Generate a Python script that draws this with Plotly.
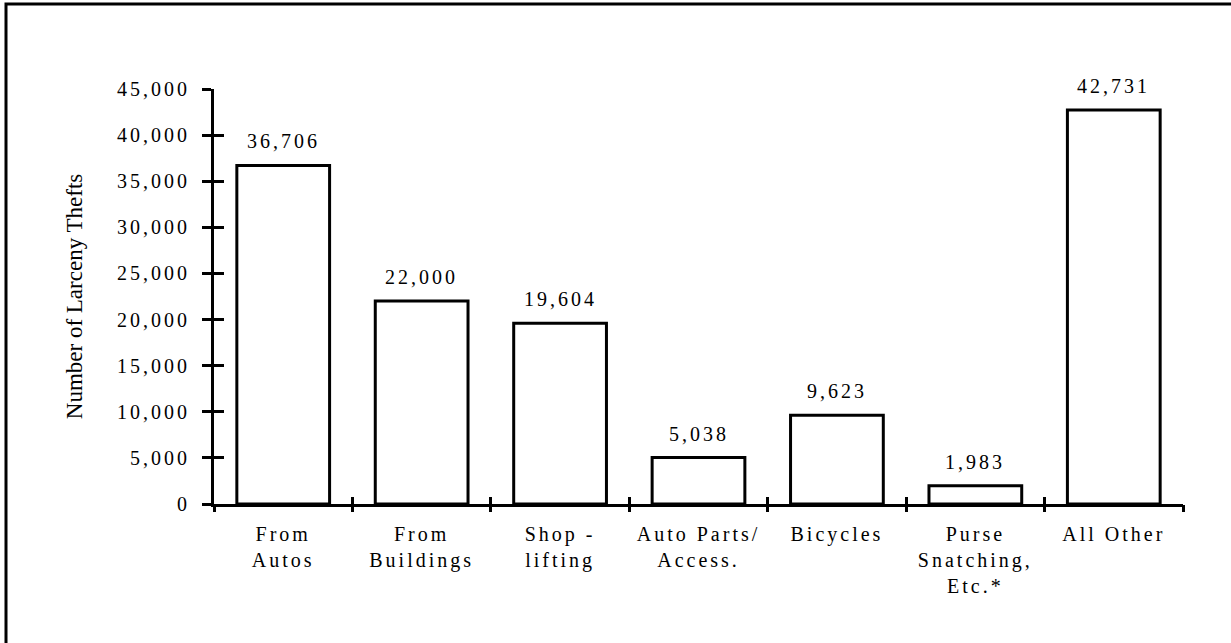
import plotly.graph_objects as go

categories = ["From<br>Autos", "From<br>Buildings", "Shop -<br>lifting", "Auto Parts/<br>Access.",
              "Bicycles", "Purse<br>Snatching,<br>Etc.*", "All Other"]
values = [36706, 22000, 19604, 5038, 9623, 1983, 42731]
y_ticks = [0, 5000, 10000, 15000, 20000, 25000, 30000, 35000, 40000, 45000]
y_title = "Number of Larceny Thefts"

FONT = "Liberation Serif, Times New Roman, serif"
LS = "letter-spacing:3px"
FS = 20


def spaced(t):
    return "<br>".join(f'<span style="{LS}">{p}</span>' for p in t.split("<br>"))


xs = list(range(len(categories)))

fig = go.Figure()
fig.add_trace(go.Bar(
    x=xs, y=values, width=0.67,
    marker=dict(color="white", line=dict(color="black", width=3)),
    hoverinfo="skip", showlegend=False,
))

for xi, v in zip(xs, values):
    fig.add_annotation(x=xi, y=v, text=spaced(f"{v:,}"), showarrow=False,
                       yanchor="bottom", yshift=11,
                       font=dict(family=FONT, size=FS, color="black"))

fig.update_layout(
    width=1231, height=643,
    margin=dict(l=214, r=48, t=89, b=139),
    paper_bgcolor="white", plot_bgcolor="white",
    font=dict(family=FONT, size=FS, color="black"),
    xaxis=dict(
        range=[-0.5, len(categories) - 0.5],
        tickmode="array", tickvals=xs, ticktext=[spaced(c) for c in categories],
        ticks="", showline=True, linecolor="black", linewidth=3,
        showgrid=False, zeroline=False, ticklabelstandoff=10,
        tickfont=dict(family=FONT, size=FS, color="black"),
    ),
    xaxis2=dict(
        overlaying="x", anchor="y", range=[-0.5, len(categories) - 0.5],
        tickmode="array", tickvals=[i - 0.5 for i in range(len(categories) + 1)],
        ticks="inside", ticklen=7, tickwidth=3, tickcolor="black",
        showticklabels=False, showgrid=False, zeroline=False, showline=False,
    ),
    xaxis3=dict(
        overlaying="x", anchor="y", range=[-0.5, len(categories) - 0.5],
        tickmode="array", tickvals=[i - 0.5 for i in range(len(categories) + 1)],
        ticks="outside", ticklen=7, tickwidth=3, tickcolor="black",
        showticklabels=False, showgrid=False, zeroline=False, showline=False,
    ),
    yaxis=dict(
        range=[0, 45000], tickmode="array", tickvals=y_ticks,
        ticktext=[spaced(f"{t:,}") for t in y_ticks],
        ticks="outside", ticklen=9, tickwidth=3, tickcolor="black",
        showline=True, linecolor="black", linewidth=3,
        showgrid=False, zeroline=False, ticklabelstandoff=8,
        tickfont=dict(family=FONT, size=FS, color="black"),
        title=dict(text=y_title, font=dict(family=FONT, size=23, color="black"), standoff=28),
    ),
    yaxis2=dict(
        overlaying="y", anchor="x", side="left", range=[0, 45000],
        tickmode="array", tickvals=y_ticks,
        ticks="inside", ticklen=10, tickwidth=3, tickcolor="black",
        showticklabels=False, showgrid=False, zeroline=False, showline=False,
    ),
)

fig.add_trace(go.Scatter(x=[None], y=[None], xaxis="x2", yaxis="y2", showlegend=False, hoverinfo="skip"))
fig.add_trace(go.Scatter(x=[None], y=[None], xaxis="x3", yaxis="y2", showlegend=False, hoverinfo="skip"))

# figure border (top/left visible, rest beyond page)
fig.add_shape(type="rect", xref="paper", yref="paper",
              x0=(6 - 214) / 969, x1=(1240 - 214) / 969,
              y0=(504 - 650) / 415, y1=(504 - 4) / 415,
              line=dict(color="black", width=3), fillcolor="rgba(0,0,0,0)", layer="below")

fig.write_html("out.html", config={"displayModeBar": False},
               post_script="document.body.style.margin='0';document.body.style.overflow='hidden';")
